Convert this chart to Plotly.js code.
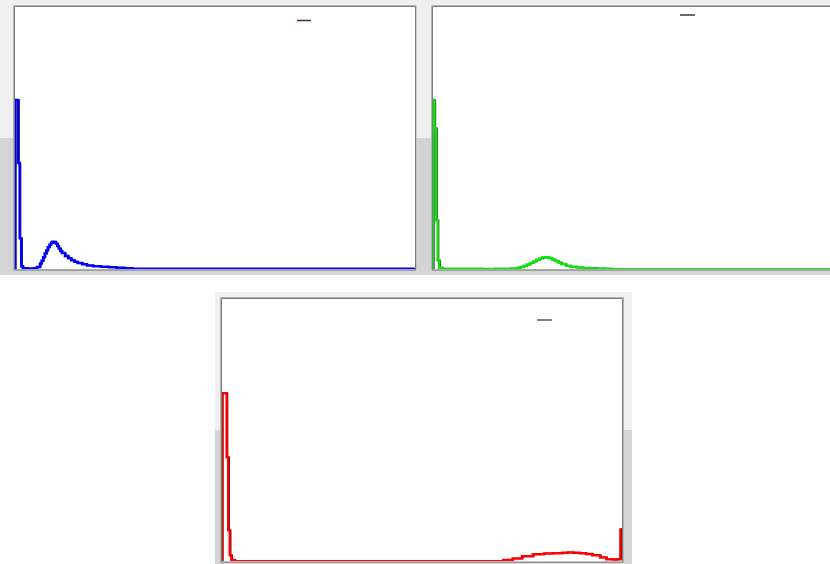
<!DOCTYPE html>
<html>
<head>
<meta charset="utf-8">
<script src="https://cdn.plot.ly/plotly-3.0.1.min.js"></script>
<style>html,body{margin:0;padding:0;background:#fff;}#chart{width:830px;height:564px;}</style>
</head>
<body>
<div id="chart"></div>
<script>
// Blue channel histogram (bin index -> count)
const blueBins   = [0,1,2,3,4,5,8,12,14,16,17,18,19,20,21,22,23,24,25,26,27,28,29,30,32,34,36,38,40,43,46,50,55,60,65,70,75,255];
const blueCounts = [645,645,405,118,12,4,3,4,9,22,33,46,60,72,84,94,101,105,104,98,89,79,70,62,51,42,35,29,24,19,15,12,10,8,6,4,2,0];

// Green channel histogram
const greenBins   = [0,1,2,3,4,6,32,40,50,54,56,58,60,62,64,66,68,70,72,74,76,78,80,82,85,88,92,96,100,105,110,115,255];
const greenCounts = [645,538,187,34,6,2,1,2,3,6,9,13,18,24,30,36,41,45,46,43,37,32,26,20,14,10,7,5,4,3,2,0,0];

// Red channel histogram
const redBins   = [0,1,2,3,4,5,6,8,170,180,186,192,199,206,212,218,221,225,229,233,237,242,246,250,253,255];
const redCounts = [641,641,641,397,118,23,5,0,0,5,11,19,27,30,31,33,34,33,31,28,23,15,8,7,8,126];

const W = 830, H = 564;
const px = v => v / W;
const py = v => 1 - v / H;

function traces(bins, counts, color, xa, ya) {
  const x = [bins[0]].concat(bins);
  const y = [0].concat(counts);
  const xs = x.map(v => v + 0.6);
  return [
    {x: xs, y: y, type: 'scatter', mode: 'lines', xaxis: xa, yaxis: ya,
     line: {color: '#000000', width: 1.3, shape: 'hv'}, hoverinfo: 'skip'},
    {x: x, y: y, type: 'scatter', mode: 'lines', xaxis: xa, yaxis: ya,
     line: {color: color, width: 2.5, shape: 'hv'}, hoverinfo: 'skip'}
  ];
}

const data = [].concat(
  traces(blueBins, blueCounts, '#0000ff', 'x', 'y'),
  traces(greenBins, greenCounts, '#10e010', 'x2', 'y2'),
  traces(redBins, redCounts, '#ff0000', 'x3', 'y3')
);

const ax = (domain, range) => ({domain: domain, range: range, showgrid: false, zeroline: false,
  showticklabels: false, ticks: '', showline: false, fixedrange: true});

function rect(x0, y0, x1, y1, fill, line) {
  return {type: 'rect', xref: 'paper', yref: 'paper', layer: 'below',
    x0: px(x0), x1: px(x1), y0: py(y1), y1: py(y0),
    fillcolor: fill || 'rgba(0,0,0,0)',
    line: line || {width: 0}};
}
function dash(x0, x1, y, color) {
  return {type: 'line', xref: 'paper', yref: 'paper', layer: 'above',
    x0: px(x0), x1: px(x1), y0: py(y), y1: py(y), line: {color: color, width: 1.5}};
}

const shapes = [
  // row 1 background
  rect(0, 0, 830, 138, '#f0f0f0'),
  rect(0, 138, 830, 275, '#d4d4d4'),
  // row 3 background
  rect(215, 292, 632, 430, '#f0f0f0'),
  rect(215, 430, 632, 564, '#d4d4d4'),
  // plot areas (white)
  rect(14, 6, 416, 270, '#ffffff'),
  rect(432, 6, 840, 270, '#ffffff'),
  rect(221, 298, 623, 562, '#ffffff'),
  // frames
  rect(13.5, 5.5, 416, 270, null, {color: '#b4b4b4', width: 1}),
  rect(14.5, 6.5, 415.5, 270, null, {color: '#7c7c7c', width: 1}),
  rect(431.5, 5.5, 840, 270, null, {color: '#b4b4b4', width: 1}),
  rect(432.5, 6.5, 840, 270, null, {color: '#7c7c7c', width: 1}),
  rect(220.5, 297.5, 623.5, 562.5, null, {color: '#b4b4b4', width: 1}),
  rect(221.5, 298.5, 622.5, 562, null, {color: '#7c7c7c', width: 1}),
  // legend marks
  dash(297, 311, 20.5, '#5a2848'),
  dash(680, 695, 15, '#3a3a3a'),
  dash(537, 552, 320, '#5a5a5a')
];

const layout = {
  width: W, height: H,
  margin: {l: 0, r: 0, t: 0, b: 0, pad: 0},
  paper_bgcolor: '#ffffff',
  plot_bgcolor: 'rgba(0,0,0,0)',
  showlegend: false,
  xaxis:  ax([px(15), px(415)], [0, 256]),
  yaxis:  ax([py(269), py(7)], [1.2, 1000]),
  xaxis2: ax([px(433), 1], [0, 254.1]),
  yaxis2: ax([py(269), py(7)], [1.2, 1000]),
  xaxis3: ax([px(222), px(622)], [0, 256]),
  yaxis3: ax([py(561), py(299)], [1.2, 1000]),
  shapes: shapes
};

Plotly.newPlot('chart', data, layout, {staticPlot: true, displayModeBar: false});
</script>
</body>
</html>
